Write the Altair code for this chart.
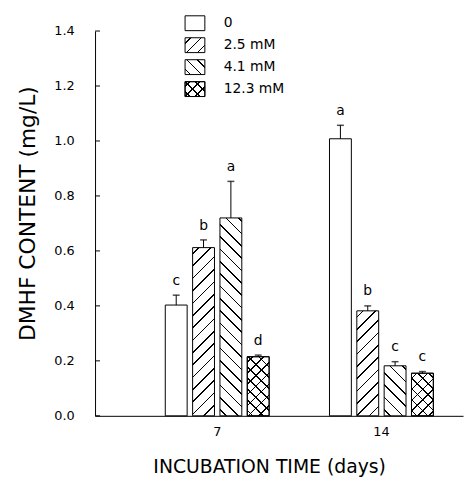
import math
import altair as alt
import pandas as pd

# ---------------- data ----------------
days = ["7", "14"]
concentrations = ["0", "2.5 mM", "4.1 mM", "12.3 mM"]
dmhf_day7 = [0.403, 0.612, 0.720, 0.215]
dmhf_day14 = [1.008, 0.382, 0.182, 0.155]
errtop_day7 = [0.439, 0.640, 0.853, 0.221]
errtop_day14 = [1.057, 0.400, 0.197, 0.161]
letters_day7 = ["c", "b", "a", "d"]
letters_day14 = ["a", "b", "c", "c"]
y_ticks = [0.0, 0.2, 0.4, 0.6, 0.8, 1.0, 1.2, 1.4]

# ---------------- layout / style constants ----------------
PLOT_W = 372
PLOT_H = 389
Y_MAX = 1.4
PX_PER_UNIT = PLOT_H / Y_MAX
X_PAD_INNER = 0.3675
X_PAD_OUTER = 0.3042
X_ALIGN = 0.703
OFF_PAD_INNER = 0.2
_step = PLOT_W / (len(days) - X_PAD_INNER + 2 * X_PAD_OUTER)
_band = _step * (1 - X_PAD_INNER)
BAR_W = _band / (len(concentrations) - OFF_PAD_INNER) * (1 - OFF_PAD_INNER)

pattern_of = {"0": "none", "2.5 mM": "fwd", "4.1 mM": "back", "12.3 mM": "cross"}
FONT = "DejaVu Sans"
WEIGHT = "normal"
INK = "black"
CLEAR = "rgba(255,255,255,0)"


def hatch(W, H, direction, period, thick=1.15, bg="white", fg=INK):
    """Linear gradient with hard stops that draws 45-degree hatch lines."""
    r = H / W
    d = (1 + r) / (1 + r * r)
    dx, dy = d, r * d
    n = (W + H) / period
    half = (thick / 2) * math.sqrt(2) / (W + H)
    stops = [{"offset": 0, "color": bg}]
    k = 0
    while True:
        c = (k + 0.5) / n
        a, b = c - half, c + half
        if a >= 1:
            break
        a = max(a, 0.0)
        b = min(b, 1.0)
        stops += [
            {"offset": round(a, 5), "color": bg},
            {"offset": round(a, 5), "color": fg},
            {"offset": round(b, 5), "color": fg},
            {"offset": round(b, 5), "color": bg},
        ]
        k += 1
    stops.append({"offset": 1, "color": bg})
    if direction == "fwd":
        x1, y1, x2, y2 = 0, 0, dx, dy
    else:
        x1, y1, x2, y2 = 0, 1, dx, 1 - dy
    return {"gradient": "linear", "x1": x1, "y1": y1, "x2": x2, "y2": y2, "stops": stops}


rows = []
for day, vals, tops, lets in [
    ("7", dmhf_day7, errtop_day7, letters_day7),
    ("14", dmhf_day14, errtop_day14, letters_day14),
]:
    for conc, v, t, l in zip(concentrations, vals, tops, lets):
        rows.append({"day": day, "conc": conc, "value": v, "errtop": t, "letter": l})
df = pd.DataFrame(rows)

Y_TITLE = "DMHF CONTENT (mg/L)"
x_enc = alt.X(
    "day:N",
    sort=days,
    scale=alt.Scale(domain=days, paddingInner=X_PAD_INNER, paddingOuter=X_PAD_OUTER, align=X_ALIGN),
    axis=alt.Axis(
        title="INCUBATION TIME (days)",
        labelAngle=0,
        ticks=False,
        tickSize=0,
        labelPadding=10,
        labelFontSize=13,
        titleFontSize=19,
        titlePadding=19,
        titleX=176,
    ),
)
xoff_enc = alt.XOffset(
    "conc:N",
    sort=concentrations,
    scale=alt.Scale(domain=concentrations, paddingInner=OFF_PAD_INNER, paddingOuter=0),
)
y_axis = alt.Axis(
    title=Y_TITLE,
    values=y_ticks,
    format=".1f",
    ticks=False,
    tickSize=0,
    labelPadding=21,
    labelFontSize=13,
    titleFontSize=22,
    titlePadding=15,
    titleY=184,
)
y_scale = alt.Scale(domain=[0, Y_MAX], nice=False, zero=True)

base = alt.Chart(df)
layers = []
for _, row in df.iterrows():
    pat = pattern_of[row["conc"]]
    H = row["value"] * PX_PER_UNIT
    sel = base.transform_filter(
        (alt.datum.day == row["day"]) & (alt.datum.conc == row["conc"])
    )
    enc = dict(
        x=x_enc,
        xOffset=xoff_enc,
        y=alt.Y("value:Q", scale=y_scale, axis=y_axis, title=Y_TITLE),
    )
    if pat == "none":
        layers.append(sel.mark_bar(fill="white", stroke=INK, strokeWidth=1).encode(**enc))
    elif pat in ("fwd", "back"):
        layers.append(
            sel.mark_bar(fill=hatch(BAR_W, H, pat, 12.5), stroke=INK, strokeWidth=1).encode(**enc)
        )
    else:
        layers.append(
            sel.mark_bar(fill=hatch(BAR_W, H, "fwd", 11), stroke=INK, strokeWidth=1).encode(**enc)
        )
        layers.append(
            sel.mark_bar(fill=hatch(BAR_W, H, "back", 11, bg=CLEAR), stroke=INK, strokeWidth=1).encode(**enc)
        )

err_rule = base.mark_rule(color=INK, strokeWidth=1).encode(
    x=x_enc,
    xOffset=xoff_enc,
    y=alt.Y("value:Q", scale=y_scale, axis=y_axis, title=Y_TITLE),
    y2="errtop:Q",
)
err_cap = base.mark_tick(color=INK, size=7, thickness=1.5, orient="horizontal").encode(
    x=x_enc,
    xOffset=xoff_enc,
    y=alt.Y("errtop:Q", scale=y_scale, axis=y_axis, title=Y_TITLE),
)
sig_text = base.mark_text(
    dy=-14.5, baseline="middle", align="center", fontSize=14, font=FONT, fontWeight=WEIGHT, color=INK
).encode(
    x=x_enc,
    xOffset=xoff_enc,
    y=alt.Y("errtop:Q", scale=y_scale, axis=y_axis, title=Y_TITLE),
    text="letter:N",
)
tick_df = pd.DataFrame({"tick": y_ticks})
inner_ticks = alt.Chart(tick_df).mark_rule(color=INK, strokeWidth=1).encode(
    y=alt.Y("tick:Q", scale=y_scale, axis=y_axis, title=Y_TITLE),
    x=alt.value(0),
    x2=alt.value(5),
)

main = alt.layer(*layers, err_rule, err_cap, sig_text, inner_ticks)

# ---------------- hand-made pattern legend ----------------
leg_df = pd.DataFrame({"conc": concentrations})
leg_y = alt.Y(
    "conc:N",
    sort=concentrations,
    scale=alt.Scale(type="band", domain=concentrations, range=[-15.4, 66.2], paddingInner=0.324, paddingOuter=0),
    axis=None,
)
SW_W, SW_H = 20, 15
leg_base = alt.Chart(leg_df)
leg_layers = []
for conc in concentrations:
    pat = pattern_of[conc]
    sel = leg_base.transform_filter(alt.datum.conc == conc)
    enc = dict(y=leg_y, x=alt.value(91), x2=alt.value(111))
    if pat == "none":
        leg_layers.append(sel.mark_rect(fill="white", stroke=INK, strokeWidth=1).encode(**enc))
    elif pat in ("fwd", "back"):
        leg_layers.append(
            sel.mark_rect(fill=hatch(SW_W, SW_H, pat, 11), stroke=INK, strokeWidth=1).encode(**enc)
        )
    else:
        leg_layers.append(
            sel.mark_rect(fill=hatch(SW_W, SW_H, "fwd", 10), stroke=INK, strokeWidth=1).encode(**enc)
        )
        leg_layers.append(
            sel.mark_rect(fill=hatch(SW_W, SW_H, "back", 10, bg=CLEAR), stroke=INK, strokeWidth=1).encode(**enc)
        )
leg_text = leg_base.mark_text(
    align="left", baseline="middle", fontSize=14, font=FONT, fontWeight=WEIGHT, color=INK
).encode(y=leg_y, x=alt.value(130), text="conc:N")
legend = alt.layer(*leg_layers, leg_text)

chart = (
    alt.layer(main, legend)
    .resolve_scale(y="independent")
    .properties(
        width=PLOT_W,
        height=PLOT_H,
        autosize=alt.AutoSizeParams(type="none"),
        padding={"left": 88, "top": 20.7, "right": 2, "bottom": 64},
    )
    .configure_view(stroke=None)
    .configure_axis(
        grid=False,
        domainColor=INK,
        domainWidth=1,
        labelColor=INK,
        titleColor=INK,
        labelFont=FONT,
        titleFont=FONT,
        labelFontWeight=WEIGHT,
        titleFontWeight=WEIGHT,
    )
)

chart.save("out.html", embed_options={"renderer": "svg", "actions": False})
